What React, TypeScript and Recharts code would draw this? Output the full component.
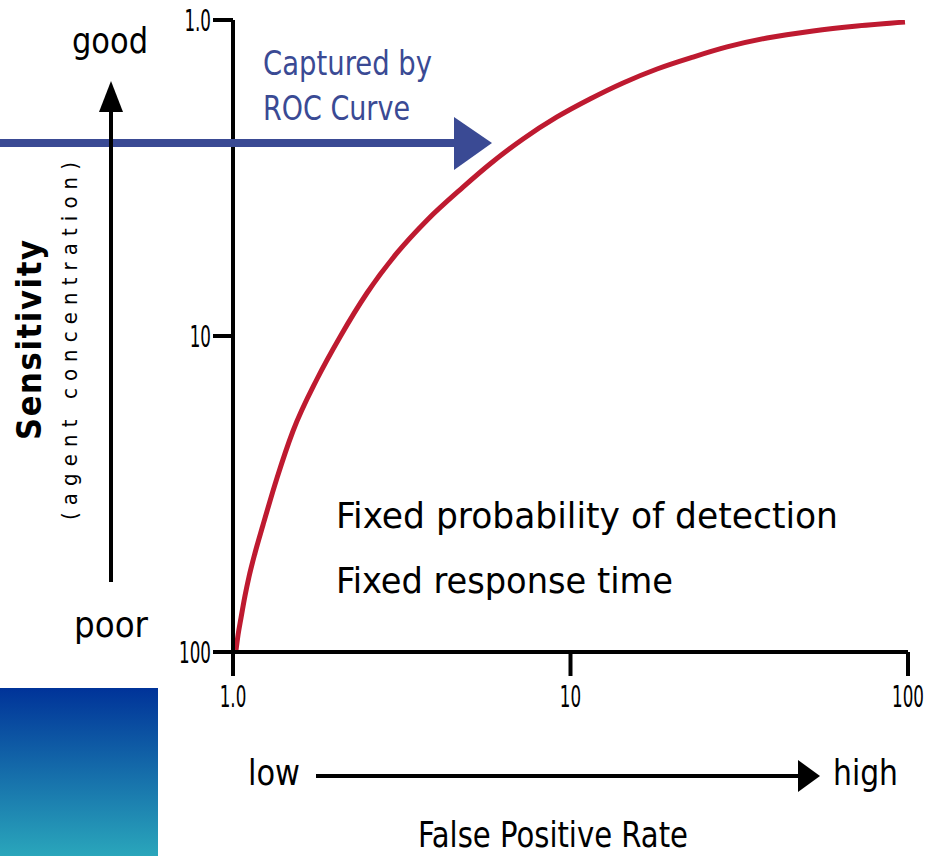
import React from "react";
import { LineChart, Line, XAxis, YAxis } from "recharts";

// false positive rate (x) and sensitivity / agent concentration (y)
const fpr = [
  1.021, 1.035, 1.056, 1.085, 1.115, 1.162, 1.227, 1.35, 1.506, 1.774, 2.075,
  2.495, 3.062, 3.757, 4.803, 5.774, 7.233, 9.12, 11.42, 14.31, 18.05, 23.07,
  29.09, 38.21, 52.31, 70.63, 97.97,
];
const sensitivity = [
  98.55, 88.35, 78.06, 66.5, 57.9, 48.61, 39.64, 28.14, 19.98, 13.68, 10.07,
  7.31, 5.46, 4.3, 3.38, 2.856, 2.38, 2.027, 1.778, 1.582, 1.429, 1.31, 1.217,
  1.14, 1.083, 1.045, 1.015,
];
const xTicks = [1, 10, 100];
const yTicks = [1, 10, 100];

const rocData = fpr.map((x, i) => ({ x, y: sensitivity[i] }));

const FONT = '"Liberation Sans Narrow", "DejaVu Sans Condensed", "Arial Narrow", sans-serif';
const BLUE = "#3a4a94";
const RED = "#be1a30";

const fmt = (v: number) => (v === 1 ? "1.0" : String(v));

// narrow tick text, the source uses a condensed face
function NarrowTick(props: any) {
  const { x, y, payload, textAnchor, verticalAnchor } = props;
  return (
    <g transform={`translate(${x},${y}) scale(0.62,1)`}>
      <text
        x={0}
        y={0}
        dy={verticalAnchor === "start" ? "0.71em" : "0.36em"}
        textAnchor={textAnchor}
        fill="#000"
        fontFamily={FONT}
        fontSize={30}
      >
        {fmt(payload.value)}
      </text>
    </g>
  );
}

export default function App() {
  return (
    <div
      style={{
        position: "absolute",
        left: 0,
        top: 0,
        width: 932,
        height: 856,
        background: "#fff",
        overflow: "hidden",
      }}
    >
      <div style={{ position: "absolute", left: 0, top: 0 }}>
        <LineChart
          width={932}
          height={856}
          data={rocData}
          margin={{ top: 20, right: 24, bottom: 164, left: 193 }}
        >
          <XAxis
            dataKey="x"
            type="number"
            scale="log"
            domain={[1, 100]}
            ticks={xTicks}
            allowDataOverflow
            height={40}
            tickSize={24}
            tickMargin={10}
            axisLine={{ stroke: "#000", strokeWidth: 4 }}
            tickLine={{ stroke: "#000", strokeWidth: 4 }}
            tick={<NarrowTick />}
            interval={0}
          />
          <XAxis
            xAxisId="top"
            orientation="top"
            type="number"
            domain={[0, 1]}
            height={0}
            tick={false}
            tickLine={false}
            axisLine={{ stroke: "#000", strokeWidth: 4 }}
          />
          <YAxis
            type="number"
            scale="log"
            domain={[1, 100]}
            reversed
            ticks={yTicks}
            allowDataOverflow
            width={40}
            tickSize={20}
            tickMargin={2}
            axisLine={{ stroke: "#000", strokeWidth: 4 }}
            tickLine={{ stroke: "#000", strokeWidth: 4 }}
            tick={<NarrowTick />}
            interval={0}
          />
          <YAxis
            yAxisId="right"
            orientation="right"
            type="number"
            domain={[0, 1]}
            width={0}
            tick={false}
            tickLine={false}
            axisLine={{ stroke: "#000", strokeWidth: 4 }}
          />
          <Line
            type="monotone"
            dataKey="y"
            stroke={RED}
            strokeWidth={5}
            dot={false}
            isAnimationActive={false}
          />
        </LineChart>
      </div>

      {/* annotations */}
      <svg
        width={932}
        height={856}
        style={{ position: "absolute", left: 0, top: 0, pointerEvents: "none" }}
      >
        <defs>
          <linearGradient id="corner" x1="0" y1="0" x2="0" y2="1">
            <stop offset="0%" stopColor="#003399" />
            <stop offset="100%" stopColor="#2aa6bb" />
          </linearGradient>
        </defs>
        <rect x={0} y={688} width={158} height={168} fill="url(#corner)" />

        {/* blue "captured" arrow */}
        <line x1={0} y1={143} x2={460} y2={143} stroke={BLUE} strokeWidth={8} />
        <polygon points="454,117 492,143 454,170" fill={BLUE} />
        <text x={263} y={75} fill={BLUE} fontFamily={FONT} fontSize={34} textLength={169} lengthAdjust="spacingAndGlyphs">
          Captured by
        </text>
        <text x={263} y={120} fill={BLUE} fontFamily={FONT} fontSize={34} textLength={147} lengthAdjust="spacingAndGlyphs">
          ROC Curve
        </text>

        {/* vertical good / poor arrow */}
        <text x={110} y={53} textAnchor="middle" fontFamily={FONT} fontSize={36} textLength={76} lengthAdjust="spacingAndGlyphs">
          good
        </text>
        <line x1={111} y1={105} x2={111} y2={582} stroke="#000" strokeWidth={4} />
        <polygon points="111,81 123,112 99,112" fill="#000" />
        <text x={111} y={637} textAnchor="middle" fontFamily={FONT} fontSize={36} textLength={74} lengthAdjust="spacingAndGlyphs">
          poor
        </text>

        <text
          transform="translate(41,340) rotate(-90)"
          textAnchor="middle"
          fontFamily={FONT}
          fontSize={34}
          fontWeight={600}
          textLength={200}
          lengthAdjust="spacing"
        >
          Sensitivity
        </text>
        <text
          transform="translate(77,341) rotate(-90)"
          textAnchor="middle"
          fontFamily={FONT}
          fontSize={22}
          textLength={358}
          lengthAdjust="spacing"
        >
          (agent concentration)
        </text>

        {/* in-plot notes */}
        <text x={336} y={528} fontFamily={FONT} fontSize={36} textLength={502} lengthAdjust="spacingAndGlyphs">
          Fixed probability of detection
        </text>
        <text x={336} y={593} fontFamily={FONT} fontSize={36} textLength={337} lengthAdjust="spacingAndGlyphs">
          Fixed response time
        </text>

        {/* horizontal low / high arrow */}
        <text x={248} y={785} fontFamily={FONT} fontSize={36} textLength={52} lengthAdjust="spacingAndGlyphs">
          low
        </text>
        <line x1={316} y1={776} x2={805} y2={776} stroke="#000" strokeWidth={4} />
        <polygon points="798,760 820,776 798,792" fill="#000" />
        <text x={833} y={785} fontFamily={FONT} fontSize={36} textLength={65} lengthAdjust="spacingAndGlyphs">
          high
        </text>
        <text x={418} y={847} fontFamily={FONT} fontSize={36} textLength={270} lengthAdjust="spacingAndGlyphs">
          False Positive Rate
        </text>
      </svg>
    </div>
  );
}
